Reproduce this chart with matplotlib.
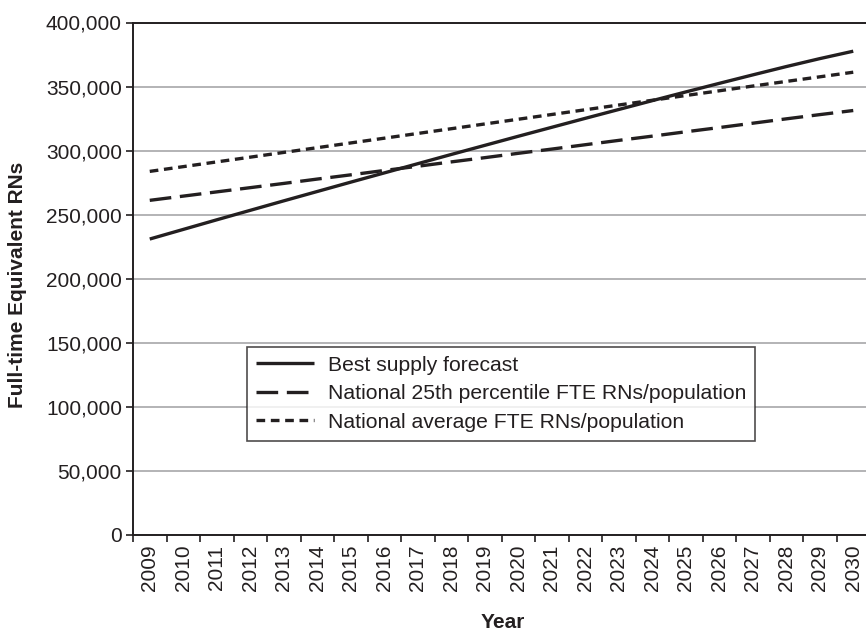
import numpy as np
import matplotlib
matplotlib.use('Agg')
import matplotlib.pyplot as plt
from matplotlib.ticker import FuncFormatter, FixedLocator

plt.rcParams['font.family'] = ['Liberation Sans', 'DejaVu Sans']

# data
years = list(range(2009, 2031))
best_supply = [231000, 238500, 246000, 253400, 260800, 268100, 275400, 282600,
               289800, 297000, 304100, 311200, 318200, 325200, 332100, 339000,
               345800, 352500, 359100, 365600, 371800, 377600]
pct25 = [261200, 264500, 267800, 271100, 274400, 277800, 281100, 284500,
         287800, 291200, 294500, 297900, 301200, 304600, 308000, 311300,
         314700, 318000, 321400, 324800, 328100, 331300]
national_avg = [283800, 287500, 291200, 294900, 298600, 302300, 306000, 309700,
                313400, 317100, 320800, 324500, 328200, 331900, 335600, 339300,
                343000, 346700, 350400, 354000, 357600, 361200]
labels = ['Best supply forecast',
          'National 25th percentile FTE RNs/population',
          'National average FTE RNs/population']

ink = '#231f20'
fig = plt.figure(figsize=(8.66, 6.3), dpi=100)
ax = fig.add_axes([133 / 866, 95 / 630, 737 / 866, 512.5 / 630])

x = np.arange(len(years))
ax.plot(x, best_supply, color=ink, lw=2.4, solid_capstyle='butt', label=labels[0], zorder=3)
ax.plot(x, pct25, color=ink, lw=2.4, linestyle=(0, (6.5, 2.6)), dash_capstyle='butt',
        label=labels[1], zorder=3)
ax.plot(x, national_avg, color=ink, lw=2.4, linestyle=(0, (2.6, 1.7)), dash_capstyle='butt',
        label=labels[2], zorder=3)

ax.set_xlim(-0.5, len(years) - 0.5)
ax.set_ylim(0, 400000)
ax.set_yticks(np.arange(0, 400001, 50000))
ax.yaxis.set_major_formatter(FuncFormatter(lambda v, p: f'{int(v):,}'))
ax.yaxis.grid(True, color='#a7a7a9', lw=1.2)
ax.set_axisbelow(True)

# ticks sit on the category boundaries, labels in the middle
ax.xaxis.set_major_locator(FixedLocator(np.arange(-0.5, len(years), 1.0)))
ax.xaxis.set_major_formatter(FuncFormatter(lambda v, p: ''))
ax.set_xticks(x, minor=True)
ax.set_xticklabels([str(y) for y in years], minor=True, rotation=90, fontsize=15)
ax.tick_params(axis='x', which='minor', length=0, pad=7, colors=ink)
ax.tick_params(axis='x', which='major', length=5, width=1.2, color=ink)
ax.tick_params(axis='y', length=5, width=1.2, labelsize=15, color=ink, labelcolor=ink, pad=3)

for side in ['left', 'bottom', 'top']:
    ax.spines[side].set_color(ink)
    ax.spines[side].set_linewidth(1.4)
ax.spines['right'].set_visible(False)

fig.text(503 / 866, 1 - 622 / 630, 'Year', fontsize=15, fontweight='bold', color=ink,
         ha='center', va='center')
fig.text(17.5 / 866, 1 - 285 / 630, 'Full-time Equivalent RNs', fontsize=15,
         fontweight='bold', color=ink, ha='center', va='center', rotation=90)

leg = ax.legend(loc='upper left', bbox_to_anchor=(0.155, 0.367), borderaxespad=0,
                fontsize=15.2, frameon=True, fancybox=False, handlelength=2.75,
                handletextpad=0.65, labelspacing=0.45, borderpad=0.42)
leg.get_frame().set_edgecolor(ink)
leg.get_frame().set_linewidth(1.2)
for t in leg.get_texts():
    t.set_color(ink)

fig.savefig('out.png', dpi=100)
